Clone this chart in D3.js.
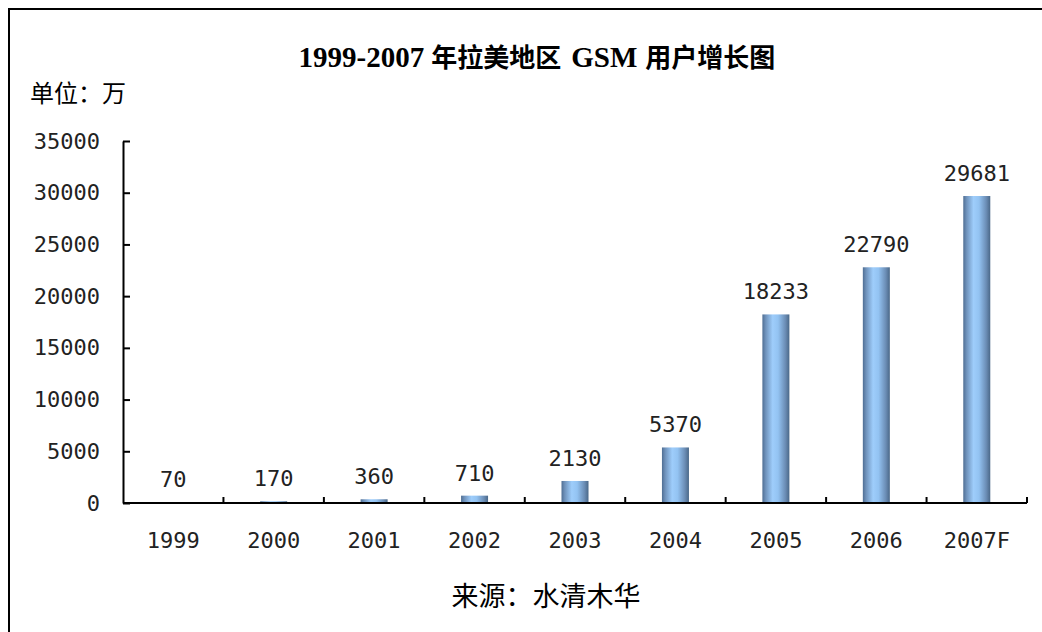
<!DOCTYPE html>
<html>
<head>
<meta charset="utf-8">
<script src="https://cdn.jsdelivr.net/npm/d3@7"></script>
<style>
  body { margin: 0; background: #fff; }
  svg { display: block; }
</style>
</head>
<body>
<div id="chart"></div>
<script>
// chart data
let years = ["1999", "2000", "2001", "2002", "2003", "2004", "2005", "2006", "2007F"];
let users = [70, 170, 360, 710, 2130, 5370, 18233, 22790, 29681];
let yTicks = [0, 5000, 10000, 15000, 20000, 25000, 30000, 35000];

let data = years.map(function(y, i) { return { year: y, value: users[i] }; });

let width = 1042;
let height = 632;

let svg = d3.select("#chart")
  .append("svg")
  .attr("width", width)
  .attr("height", height);

// frame round the chart (runs off the right and bottom edge)
svg.append("rect")
  .attr("x", 9)
  .attr("y", 9)
  .attr("width", width + 20)
  .attr("height", height + 20)
  .attr("fill", "none")
  .attr("stroke", "#000")
  .attr("stroke-width", 2);

let plotLeft = 123, plotRight = 1027, plotTop = 141, plotBottom = 503;

let xScale = d3.scaleBand()
  .domain(years)
  .range([plotLeft, plotRight])
  .padding(0);

let yScale = d3.scaleLinear()
  .domain([0, 35000])
  .range([plotBottom, plotTop]);

let numFont = "'DejaVu Sans Mono', monospace";
let cjkFont = "'Noto Sans CJK SC', sans-serif";

// bar gradient
let defs = svg.append("defs");
let grad = defs.append("linearGradient")
  .attr("id", "barGrad")
  .attr("x1", "0%").attr("x2", "100%")
  .attr("y1", "0%").attr("y2", "0%");
[["0%", "#4f6e93"], ["12%", "#6f92bb"], ["38%", "#9ecdfb"], ["58%", "#93c3f2"], ["85%", "#6b8db5"], ["100%", "#4a6888"]]
  .forEach(function(s) {
    grad.append("stop").attr("offset", s[0]).attr("stop-color", s[1]);
  });

let barWidth = 27;

// bars
svg.selectAll(".bar")
  .data(data)
  .enter()
  .append("rect")
  .attr("class", "bar")
  .attr("x", function(d) { return xScale(d.year) + xScale.bandwidth() / 2 - barWidth / 2; })
  .attr("y", function(d) { return yScale(d.value); })
  .attr("width", barWidth)
  .attr("height", function(d) { return plotBottom - yScale(d.value); })
  .attr("fill", "url(#barGrad)");

// value labels
svg.selectAll(".bar-label")
  .data(data)
  .enter()
  .append("text")
  .attr("class", "bar-label")
  .attr("x", function(d) { return xScale(d.year) + xScale.bandwidth() / 2; })
  .attr("y", function(d) { return yScale(d.value) - 15; })
  .attr("text-anchor", "middle")
  .style("font-family", numFont)
  .style("font-size", "22px")
  .style("fill", "#222")
  .text(function(d) { return d.value; });

// y axis, ticks pointing inwards
let yAxis = svg.append("g")
  .attr("transform", "translate(" + plotLeft + ",0)")
  .call(d3.axisLeft(yScale)
    .tickValues(yTicks)
    .tickSizeInner(-7)
    .tickSizeOuter(0)
    .tickPadding(23)
    .tickFormat(d3.format("d")));

yAxis.select(".domain").attr("stroke", "#000").attr("stroke-width", 2);
yAxis.selectAll(".tick line").attr("stroke", "#000").attr("stroke-width", 2);
yAxis.selectAll(".tick text")
  .style("font-family", numFont)
  .style("font-size", "22px")
  .style("fill", "#222");

// x axis line and ticks between categories
svg.append("line")
  .attr("x1", plotLeft)
  .attr("x2", plotRight)
  .attr("y1", plotBottom)
  .attr("y2", plotBottom)
  .attr("stroke", "#000")
  .attr("stroke-width", 2);

svg.selectAll(".x-tick")
  .data(years)
  .enter()
  .append("line")
  .attr("class", "x-tick")
  .attr("x1", function(d) { return xScale(d) + xScale.bandwidth(); })
  .attr("x2", function(d) { return xScale(d) + xScale.bandwidth(); })
  .attr("y1", plotBottom)
  .attr("y2", plotBottom - 6)
  .attr("stroke", "#000")
  .attr("stroke-width", 2);

svg.selectAll(".x-label")
  .data(years)
  .enter()
  .append("text")
  .attr("class", "x-label")
  .attr("x", function(d) { return xScale(d) + xScale.bandwidth() / 2; })
  .attr("y", 548)
  .attr("text-anchor", "middle")
  .style("font-family", numFont)
  .style("font-size", "22px")
  .style("fill", "#222")
  .text(function(d) { return d; });

// title: serif latin + bold CJK, laid out piece by piece
let titleParts = [
  { t: "1999-2007", latin: true, gap: 7 },
  { t: "年拉美地区", latin: false, gap: 10 },
  { t: "GSM", latin: true, gap: 8 },
  { t: "用户增长图", latin: false, gap: 0 }
];
let title = svg.append("g");
let cursor = 0;
titleParts.forEach(function(p) {
  let txt = title.append("text")
    .attr("x", cursor)
    .style("font-family", p.latin ? "'Liberation Serif', serif" : cjkFont)
    .style("font-weight", "bold")
    .style("font-size", p.latin ? "29px" : "26px")
    .style("fill", "#000")
    .text(p.t);
  cursor += txt.node().getComputedTextLength() + p.gap;
});
title.attr("transform", "translate(" + (537 - cursor / 2) + ",67)");

// unit label
svg.append("text")
  .attr("x", 30)
  .attr("y", 102)
  .style("font-family", cjkFont)
  .style("font-size", "24px")
  .style("fill", "#000")
  .text("单位：万");

// source
svg.append("text")
  .attr("x", 546)
  .attr("y", 606)
  .attr("text-anchor", "middle")
  .style("font-family", cjkFont)
  .style("font-size", "27px")
  .style("fill", "#000")
  .text("来源：水清木华");
</script>
</body>
</html>
